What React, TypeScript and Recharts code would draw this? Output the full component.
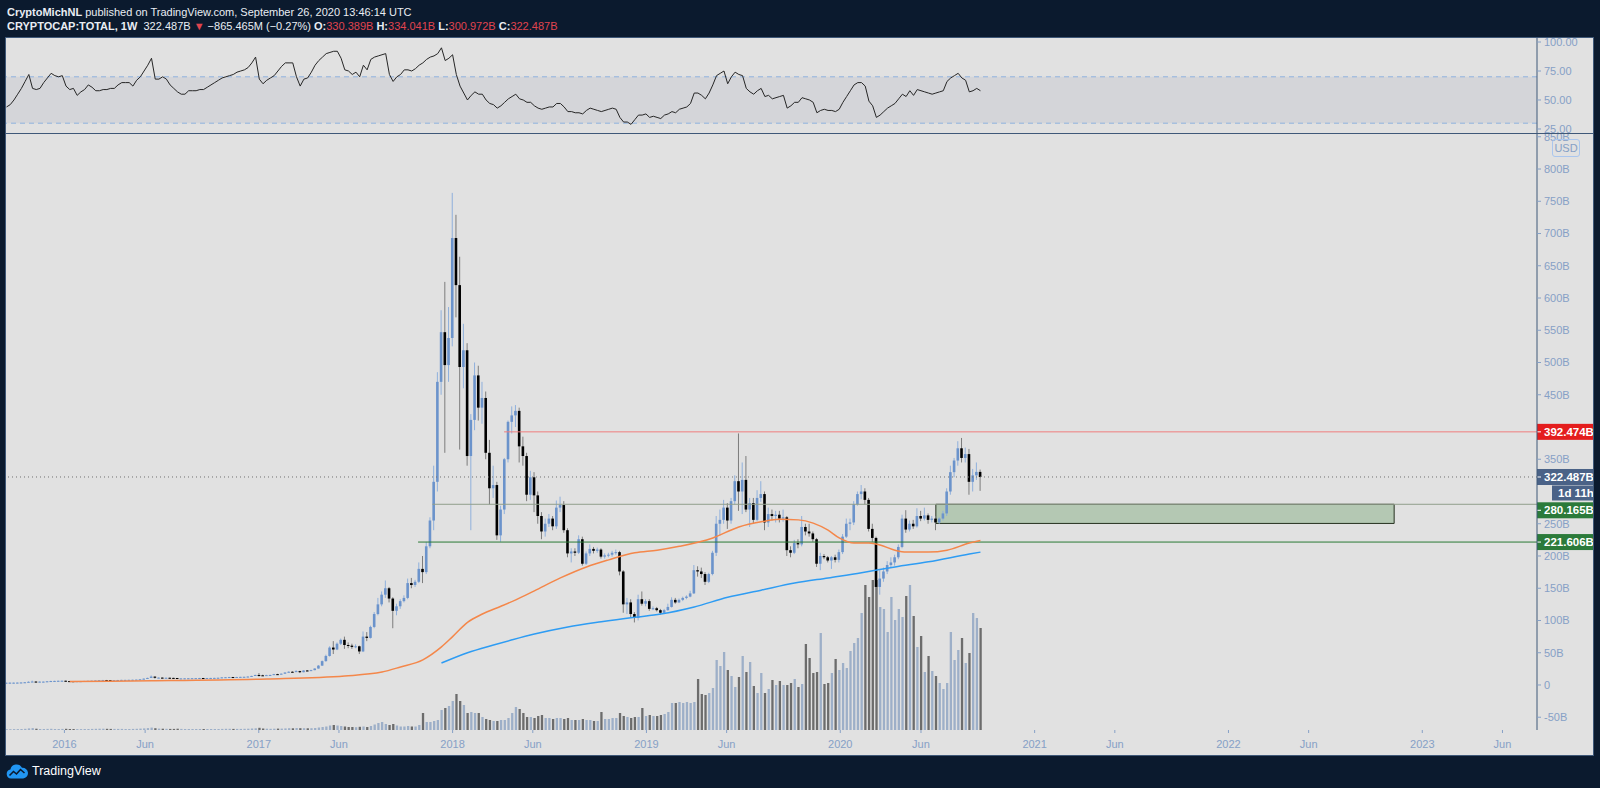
import React from "react";
import {
  ComposedChart,
  LineChart,
  Line,
  Bar,
  XAxis,
  YAxis,
  ReferenceLine,
  ReferenceArea,
} from "recharts";

// CRYPTOCAP:TOTAL weekly candles, week 0 = Sep 14 2015, last = Sep 21 2020 (values in billions USD)
const FIRST_WEEK = Date.UTC(2015, 8, 14);
const WEEK = 7 * 24 * 60 * 60 * 1000;
const X_MIN = Date.UTC(2015, 8, 13);
const X_MAX = Date.UTC(2023, 7, 5);
const firstOpen = 3.4;

const closes = [
  // 2015
  3.5, 3.6, 3.6, 3.7, 3.9, 4.2, 4.9, 5.3, 5.0, 5.2, 5.2, 5.7, 6.1, 6.3, 6.5, 6.6,
  // 2016
  6.0, 5.9, 5.7, 5.9, 5.9, 6.2, 6.4, 6.6, 6.9, 7.4, 7.6, 7.5, 7.4, 7.5, 7.7, 7.9, 7.9, 8.0, 8.1, 8.3,
  8.8, 9.8, 10.9, 13.0, 11.2, 11.4, 11.0, 11.2, 11.0, 10.8, 9.8, 10.2, 10.3, 10.4, 10.5, 10.6, 10.8, 10.7, 10.8, 10.9,
  11.0, 11.2, 11.8, 12.0, 12.3, 12.2, 12.4, 12.6, 12.7, 13.1, 14.0, 15.5,
  // 2017
  15.0, 14.8, 15.3, 15.5, 16.8, 16.5, 17.5, 19.3, 20.5, 20.2, 21.5, 19.8, 22.5, 22.0, 23.0, 25.5, 30, 37, 45, 58,
  55, 64, 70, 62, 61, 59, 60, 52, 75, 73, 90, 110, 125, 140, 150, 134, 115, 122, 130, 135,
  158, 155, 160, 180, 175, 215, 255, 315, 470, 547, 496, 538,
  // 2018
  693, 620, 493, 519, 355, 411, 480, 430, 445, 360, 305, 310, 232, 272, 350, 408, 418, 425, 370, 355,
  295, 322, 294, 262, 238, 250, 258, 246, 275, 279, 240, 204, 207, 205, 226, 188, 204, 211, 208, 210,
  199, 201, 202, 205, 206, 176, 125, 128, 110, 104, 133, 126,
  // 2019
  130, 118, 119, 116, 112, 116, 121, 132, 128, 132, 135, 137, 142, 178, 176, 172, 160, 172, 205, 250,
  256, 275, 255, 285, 316, 300, 318, 272, 282, 256, 290, 296, 252, 265, 262, 264, 258, 260, 209, 205,
  220, 218, 245, 238, 235, 226, 188, 200, 198, 193, 198, 194,
  // 2020
  206, 230, 250, 252, 280, 296, 300, 287, 242, 228, 152, 165, 176, 186, 190, 198, 214, 258, 241, 250,
  246, 262, 258, 263, 256, 258, 252, 258, 266, 300, 330, 348, 367, 352, 358, 315, 325, 330.389, 322.487,
];

const highs = [
  3.7, 3.8, 3.8, 3.9, 4.1, 4.6, 5.6, 6.8, 5.6, 5.5, 5.5, 6.0, 6.6, 6.6, 6.8, 6.9,
  6.7, 6.2, 6.0, 6.1, 6.1, 6.4, 6.6, 6.8, 7.1, 7.6, 7.9, 7.8, 7.6, 7.7, 7.9, 8.1, 8.1, 8.2, 8.3, 8.5,
  9.0, 10.1, 11.4, 14.8, 13.2, 11.8, 11.7, 11.5, 11.4, 11.2, 10.9, 10.4, 10.5, 10.6, 10.7, 10.8, 11.0, 11.0, 11.0, 11.1,
  11.2, 11.4, 12.1, 12.3, 12.5, 12.5, 12.6, 12.8, 12.9, 13.3, 14.3, 16.0,
  18.5, 15.9, 15.8, 16.0, 17.2, 17.3, 17.9, 19.8, 21.2, 21.3, 23.0, 22.0, 23.0, 23.2, 23.6, 26.0, 31, 38, 47, 60,
  68, 66, 72, 75, 66, 64, 63, 61, 83, 82, 92, 113, 135, 145, 162, 152, 136, 126, 133, 139,
  165, 166, 163, 190, 200, 222, 260, 340, 485, 581, 625, 586,
  763, 729, 664, 560, 530, 420, 500, 495, 470, 455, 380, 340, 315, 278, 352, 410, 432, 434, 430, 385,
  360, 332, 330, 300, 268, 258, 265, 262, 286, 292, 285, 243, 212, 212, 232, 230, 207, 218, 214, 213,
  212, 204, 205, 208, 210, 208, 178, 135, 133, 113, 140, 145,
  133, 133, 122, 121, 118, 118, 126, 136, 135, 134, 137, 139, 146, 186, 184, 182, 175, 174, 208, 262,
  272, 287, 282, 290, 325, 390, 345, 355, 290, 290, 302, 316, 300, 275, 272, 270, 270, 272, 262, 215,
  225, 226, 262, 250, 250, 238, 228, 205, 203, 200, 200, 202,
  210, 234, 258, 258, 285, 300, 310, 305, 290, 250, 230, 178, 182, 192, 198, 202, 218, 264, 271, 255,
  256, 274, 270, 275, 266, 262, 262, 260, 270, 305, 340, 352, 378, 383, 368, 366, 335, 345, 334.041,
];

const lows = [
  3.3, 3.4, 3.4, 3.5, 3.6, 3.9, 4.1, 4.7, 4.6, 4.9, 5.0, 5.1, 5.6, 5.9, 6.1, 6.3,
  5.7, 5.6, 5.4, 5.6, 5.6, 5.8, 6.1, 6.3, 6.5, 6.8, 7.3, 7.2, 7.2, 7.3, 7.4, 7.6, 7.7, 7.8, 7.9, 8.0,
  8.2, 8.7, 9.7, 10.8, 10.0, 10.9, 10.7, 10.8, 10.8, 10.5, 9.2, 9.7, 10.0, 10.2, 10.3, 10.4, 10.5, 10.5, 10.6, 10.7,
  10.8, 11.0, 11.1, 11.7, 11.8, 12.0, 12.1, 12.3, 12.5, 12.7, 13.0, 13.9,
  13.0, 14.0, 14.5, 15.0, 15.4, 16.0, 16.4, 17.3, 19.0, 19.5, 20.0, 18.5, 19.6, 21.3, 21.8, 22.8, 25.2, 29.5, 36, 44,
  48, 54, 62, 56, 57, 56, 57, 48, 51, 68, 72, 88, 108, 122, 135, 128, 88, 108, 118, 128,
  133, 150, 152, 158, 158, 172, 212, 240, 300, 450, 360, 470,
  525, 570, 365, 460, 340, 240, 395, 410, 405, 350, 280, 290, 225, 222, 265, 345, 390, 400, 345, 340,
  285, 287, 268, 250, 226, 230, 245, 240, 242, 268, 236, 198, 190, 200, 203, 185, 186, 200, 204, 205,
  196, 196, 198, 199, 202, 170, 112, 110, 104, 97, 100, 123,
  122, 115, 116, 114, 109, 110, 115, 120, 126, 127, 130, 133, 136, 141, 168, 166, 155, 158, 170, 200,
  232, 250, 242, 250, 280, 270, 265, 268, 245, 250, 254, 284, 240, 245, 255, 252, 252, 253, 200, 198,
  203, 212, 215, 232, 230, 222, 183, 178, 195, 190, 180, 190,
  190, 203, 228, 240, 248, 278, 288, 280, 238, 222, 117, 140, 160, 172, 182, 185, 195, 212, 236, 238,
  242, 244, 254, 255, 250, 252, 240, 250, 255, 262, 295, 322, 340, 345, 345, 295, 300, 318, 300.972,
];

// relative weekly volume (drawn as an overlay at the bottom of the price pane)
const volumes = [
  0.8, 0.8, 0.9, 0.9, 1, 1.2, 1.6, 1.9, 1.3, 1, 1, 1.1, 1.2, 1, 1, 1.1,
  1.2, 1, 1, 0.9, 0.9, 1, 1, 1.1, 1.2, 1.3, 1.3, 1.2, 1.1, 1.1, 1.1, 1.1, 1, 1, 1.1, 1.2,
  1.4, 1.6, 1.9, 2.4, 1.8, 1.4, 1.3, 1.2, 1.1, 1.1, 1.3, 1.1, 1, 1, 1, 1, 1, 1, 1, 1,
  1, 1, 1.1, 1.2, 1.2, 1.1, 1.1, 1.1, 1.2, 1.3, 1.5, 1.7,
  2.2, 1.5, 1.3, 1.2, 1.3, 1.4, 1.4, 1.6, 1.8, 1.7, 2, 1.8, 1.8, 1.7, 1.8, 2, 2.5, 3, 3.5, 4.5,
  5, 4.5, 4, 3.5, 3, 3, 2.8, 3.2, 3.5, 3, 4, 5.5, 7, 8, 6, 5, 6, 4.5, 3.5, 3.5,
  4, 3.5, 3.5, 5, 17, 8, 8, 9, 10, 20, 22, 24,
  29, 36, 29, 25, 17, 18, 17, 17, 13, 11, 10, 9, 9, 10, 10, 12, 17, 23, 21, 17,
  13, 13, 12, 14, 15, 12, 12, 11, 12, 12, 11, 12, 10, 10, 10, 11, 10, 10, 9, 9,
  18, 11, 11, 12, 12, 17, 14, 13, 12, 13, 13, 22,
  14, 15, 14, 14, 15, 16, 18, 27, 27, 28, 27, 28, 27, 28, 51, 36, 35, 37, 42, 70,
  64, 78, 60, 54, 43, 53, 74, 58, 68, 44, 37, 57, 37, 41, 50, 45, 49, 45, 45, 47,
  51, 43, 46, 86, 72, 57, 58, 97, 46, 47, 57, 71,
  60, 67, 62, 79, 87, 92, 117, 145, 133, 150, 150, 123, 121, 98, 133, 110, 121, 113, 134, 145,
  114, 83, 94, 58, 74, 59, 54, 47, 41, 47, 98, 70, 80, 92, 67, 77, 117, 112, 102,
];

// RSI (14) per week
const rsiValues = [
  44, 46, 50, 55, 60, 66, 72, 60, 59, 60, 65, 69, 73, 71, 70, 71,
  62, 59, 60, 54, 57, 59, 63, 61, 58, 58, 59, 59, 60, 60, 63, 65, 65, 65, 62, 67,
  70, 75, 80, 86, 68, 68, 70, 68, 63, 60, 57, 55, 55, 58, 58, 58, 59, 59, 61, 63,
  65, 67, 69, 70, 71, 72, 74, 75, 76, 78, 82, 87,
  68, 64, 67, 69, 71, 75, 79, 82, 82, 82, 70, 62, 68, 69, 74, 80, 84, 87, 90, 91,
  92, 92, 86, 76, 75, 72, 74, 70, 80, 76, 85, 87, 88, 89, 90, 72, 66, 70, 72, 76,
  76, 75, 77, 80, 82, 85, 87, 88, 90, 95, 84, 86,
  89, 72, 62, 56, 50, 54, 57, 55, 55, 50, 47, 46, 43, 45, 48, 51, 53, 55, 51, 50,
  48, 48, 45, 43, 42, 43, 44, 44, 47, 47, 44, 40, 40, 39, 39, 38, 41, 43, 42, 41,
  40, 41, 42, 43, 42, 35, 31, 31, 29, 33, 37, 37,
  38, 35, 36, 35, 34, 37, 38, 40, 39, 42, 43, 44, 47, 56, 56, 54, 51, 56, 63, 71,
  73, 75, 64, 70, 74, 72, 71, 60, 57, 55, 58, 60, 53, 54, 51, 52, 53, 54, 43, 45,
  48, 48, 52, 51, 50, 48, 39, 41, 42, 41, 41, 40,
  42, 48, 53, 58, 63, 65, 65, 62, 49, 45, 35, 37, 40, 43, 45, 47, 51, 55, 53, 58,
  54, 59, 58, 57, 56, 55, 56, 57, 58, 66, 69, 71, 73, 69, 67, 57, 58, 60, 58,
];

// moving averages at a few weeks (week index -> value)
const orangeMaWeeks = [17, 39, 70, 91, 101, 106, 112, 117, 120, 124, 128, 133, 137, 142, 149, 156, 162, 169, 175, 181, 190, 197, 203, 208, 213, 217, 221, 224, 228, 232, 235, 239, 242, 248, 253, 259, 262];
const orangeMaValues = [5.5, 6.5, 9.3, 14, 20, 28, 39, 59, 75, 97, 110, 122, 132, 146, 166, 183, 194, 205, 209, 215, 228, 245, 253, 257, 256, 251, 240, 228, 220, 220, 217, 209, 206, 206, 209, 220, 224];
const blueMaWeeks = [117, 124, 131, 136, 142, 151, 160, 169, 176, 185, 194, 203, 212, 221, 230, 239, 248, 259, 262];
const blueMaValues = [34, 50, 62, 70, 79, 90, 98, 105, 110, 121, 136, 147, 158, 166, 174, 183, 191, 203, 206];

const priceTicks = [-50, 0, 50, 100, 150, 200, 250, 350, 450, 500, 550, 600, 650, 700, 750, 800, 850];
const rsiTicks = [25, 50, 75, 100];
const tickYears = [2016, 2017, 2018, 2019, 2020, 2021, 2022, 2023];

const resistance = 392.474;
const lastPrice = 322.487;
const zoneTop = 280.165;
const zoneBottom = 250.5;
const support = 221.606;
const resistanceFrom = Date.UTC(2018, 3, 8);
const zoneLineFrom = Date.UTC(2017, 10, 24);
const supportFrom = Date.UTC(2017, 9, 28);
const boxFrom = Date.UTC(2020, 5, 29);
const boxTo = Date.UTC(2022, 10, 9);

const NAVY = "#0b1a2e";
const PANEL = "#e1e1e1";
const BORDER = "#3f5878";
const AXIS_TEXT = "#86a0c6";
const FONT = "'Liberation Sans', Arial, sans-serif";
const UP_BODY = "#6b93cb";
const UP_WICK = "#8fb0dc";
const DOWN_BODY = "#000000";
const DOWN_WICK = "#7c7c7c";
const RED = "#e0444e";

const timeTicks = tickYears.flatMap((y) => [Date.UTC(y, 0, 1), Date.UTC(y, 5, 1)]);

const rows = closes.map((c, i) => ({
  t: FIRST_WEEK + i * WEEK,
  open: i === 0 ? firstOpen : closes[i - 1],
  high: highs[i],
  low: lows[i],
  close: c,
  volume: volumes[i],
  rsi: rsiValues[i],
  maOrange: null as number | null,
  maBlue: null as number | null,
}));
orangeMaWeeks.forEach((w, k) => (rows[w].maOrange = orangeMaValues[k]));
blueMaWeeks.forEach((w, k) => (rows[w].maBlue = blueMaValues[k]));

const Candle = (props: any) => {
  const { x, y, width, height, payload } = props;
  if (!payload || !Number.isFinite(y)) return null;
  const { open, close, high, low } = payload;
  const k = high > low ? height / (high - low) : 0;
  const cx = x + width / 2;
  const yOpen = y + (high - open) * k;
  const yClose = y + (high - close) * k;
  const up = close >= open;
  const top = Math.min(yOpen, yClose);
  const bodyH = Math.max(Math.abs(yOpen - yClose), 1);
  return (
    <g>
      <line x1={cx} x2={cx} y1={y} y2={y + Math.max(height, 1)} stroke={up ? UP_WICK : DOWN_WICK} strokeWidth={1} />
      <rect x={cx - 1.3} y={top} width={2.6} height={bodyH} fill={up ? UP_BODY : DOWN_BODY} />
    </g>
  );
};

const VolumeBar = (props: any) => {
  const { x, y, width, height, payload } = props;
  if (!payload || !(height > 0)) return null;
  const up = payload.close >= payload.open;
  return <rect x={x + width / 2 - 1.15} y={y} width={2.3} height={height} fill={up ? "#9dafc8" : "#6c6c6c"} />;
};

const AxisTag = ({ viewBox, text, bg, shift = 0, timer }: any) => {
  if (!viewBox) return null;
  const x = viewBox.x + viewBox.width;
  const y = viewBox.y + shift;
  return (
    <g>
      <rect x={x} y={y - 8} width={56} height={16} fill={bg} />
      <line x1={x} x2={x + 4} y1={y} y2={y} stroke="#ffffff" />
      <text x={x + 7} y={y + 4} fill="#ffffff" fontSize={11.5} fontWeight={700} fontFamily={FONT}>
        {text}
      </text>
      {timer && (
        <g>
          <rect x={x + 15} y={y + 8.5} width={41} height={15} fill={bg} />
          <text x={x + 21} y={y + 20} fill="#ffffff" fontSize={11.5} fontWeight={700} fontFamily={FONT}>
            {timer}
          </text>
        </g>
      )}
    </g>
  );
};

const axisTick = { fill: AXIS_TEXT, fontSize: 11, fontFamily: FONT };

const RsiPane = () => (
  <LineChart width={1587} height={95} data={rows} margin={{ top: 0, right: 0, bottom: 0, left: 0 }}>
    <XAxis dataKey="t" type="number" domain={[X_MIN, X_MAX]} allowDataOverflow hide />
    <YAxis
      orientation="right"
      width={56}
      domain={[21.55, 103.45]}
      allowDataOverflow
      ticks={rsiTicks}
      interval={0}
      tickFormatter={(v: number) => v.toFixed(2)}
      tick={axisTick}
      tickSize={4}
      tickMargin={3}
      tickLine={{ stroke: AXIS_TEXT }}
      axisLine={{ stroke: BORDER }}
    />
    <ReferenceArea y1={30} y2={70} fill="#d4d5d9" fillOpacity={1} stroke="none" />
    <ReferenceLine y={70} stroke="#8fb3de" strokeDasharray="5 4" />
    <ReferenceLine y={30} stroke="#8fb3de" strokeDasharray="5 4" />
    <Line type="linear" dataKey="rsi" stroke="#262626" strokeWidth={1} dot={false} isAnimationActive={false} />
  </LineChart>
);

const PricePane = () => (
  <ComposedChart width={1587} height={621} data={rows} margin={{ top: 0, right: 0, bottom: 0, left: 0 }}>
    <XAxis
      xAxisId="t"
      dataKey="t"
      type="number"
      domain={[X_MIN, X_MAX]}
      allowDataOverflow
      ticks={timeTicks}
      interval={0}
      height={25}
      tickFormatter={(v: number) => {
        const d = new Date(v);
        return d.getUTCMonth() === 0 ? String(d.getUTCFullYear()) : "Jun";
      }}
      tick={axisTick}
      tickSize={3}
      tickMargin={7}
      tickLine={{ stroke: AXIS_TEXT }}
      axisLine={false}
    />
    <XAxis xAxisId="v" dataKey="t" type="number" domain={[X_MIN, X_MAX]} allowDataOverflow hide />
    <YAxis
      yAxisId="p"
      orientation="right"
      width={56}
      domain={[-69.8, 854.3]}
      allowDataOverflow
      ticks={priceTicks}
      interval={0}
      tickFormatter={(v: number) => (v === 0 ? "0" : `${v}B`)}
      tick={axisTick}
      tickSize={4}
      tickMargin={3}
      tickLine={{ stroke: AXIS_TEXT }}
      axisLine={{ stroke: BORDER }}
    />
    <YAxis yAxisId="vol" hide domain={[0, 596]} allowDataOverflow />

    <Bar xAxisId="v" yAxisId="vol" dataKey="volume" barSize={2} shape={(p: any) => <VolumeBar {...p} />} isAnimationActive={false} />

    <ReferenceArea
      xAxisId="t"
      yAxisId="p"
      x1={boxFrom}
      x2={boxTo}
      y1={zoneBottom}
      y2={zoneTop}
      fill="#b4c8b3"
      fillOpacity={1}
      stroke="#25301f"
      strokeWidth={1}
    />
    <ReferenceLine
      xAxisId="t"
      yAxisId="p"
      y={lastPrice}
      stroke="#707070"
      strokeDasharray="1 3"
      label={(p: any) => <AxisTag viewBox={p.viewBox} text="322.487B" bg="#4a6287" timer="1d 11h" />}
    />
    <ReferenceLine
      xAxisId="t"
      yAxisId="p"
      segment={[{ x: resistanceFrom, y: resistance }, { x: X_MAX, y: resistance }]}
      stroke="#ef7d7d"
      ifOverflow="visible"
      label={(p: any) => <AxisTag viewBox={p.viewBox} text="392.474B" bg="#e41d1d" />}
    />
    <ReferenceLine
      xAxisId="t"
      yAxisId="p"
      segment={[{ x: zoneLineFrom, y: zoneTop }, { x: X_MAX, y: zoneTop }]}
      stroke="#919e8c"
      ifOverflow="visible"
      label={(p: any) => <AxisTag viewBox={p.viewBox} text="280.165B" bg="#2b7a3a" shift={6} />}
    />
    <ReferenceLine
      xAxisId="t"
      yAxisId="p"
      segment={[{ x: supportFrom, y: support }, { x: X_MAX, y: support }]}
      stroke="#2a7a35"
      ifOverflow="visible"
      label={(p: any) => <AxisTag viewBox={p.viewBox} text="221.606B" bg="#2b7a3a" />}
    />

    <Line xAxisId="t" yAxisId="p" type="monotone" dataKey="maOrange" connectNulls stroke="#f4874a" strokeWidth={1.5} dot={false} isAnimationActive={false} />
    <Line xAxisId="t" yAxisId="p" type="monotone" dataKey="maBlue" connectNulls stroke="#2e9cf3" strokeWidth={1.5} dot={false} isAnimationActive={false} />

    <Bar
      xAxisId="t"
      yAxisId="p"
      dataKey={(d: any) => [d.low, d.high]}
      barSize={3}
      shape={(p: any) => <Candle {...p} />}
      isAnimationActive={false}
    />
  </ComposedChart>
);

const Logo = () => (
  <div style={{ position: "absolute", left: 6, top: 763, display: "flex", alignItems: "center", gap: 4 }}>
    <svg width="22" height="16" viewBox="0 0 22 16">
      <path d="M5 15.5 a4.6 4.6 0 0 1 -0.6 -9.1 a6.2 6.2 0 0 1 11.6 -1.6 a5.3 5.3 0 0 1 1.2 10.7 z" fill="#2196f3" />
      <path d="M3.5 12.5 L7.5 8.5 L10.5 11 L14.5 6.5 L18.5 10" stroke={NAVY} strokeWidth="1.6" fill="none" />
    </svg>
    <span style={{ color: "#ffffff", fontSize: 12.5, fontFamily: FONT }}>TradingView</span>
  </div>
);

const App = () => (
  <div
    style={{
      position: "fixed",
      left: 0,
      top: 0,
      width: 1600,
      height: 788,
      background: NAVY,
      overflow: "hidden",
      fontFamily: FONT,
    }}
  >
    <div style={{ position: "absolute", left: 7, top: 5, color: "#e9edf3", fontSize: 11, lineHeight: "14px", whiteSpace: "nowrap" }}>
      <div>
        <b>CryptoMichNL</b> published on TradingView.com, September 26, 2020 13:46:14 UTC
      </div>
      <div>
        <b>CRYPTOCAP:TOTAL, 1W</b>&nbsp; 322.487B <span style={{ color: RED }}>▼</span> −865.465M (−0.27%){" "}
        <b>O:</b>
        <span style={{ color: RED }}>330.389B</span> <b>H:</b>
        <span style={{ color: RED }}>334.041B</span> <b>L:</b>
        <span style={{ color: RED }}>300.972B</span> <b>C:</b>
        <span style={{ color: RED }}>322.487B</span>
      </div>
    </div>

    <div
      style={{
        position: "absolute",
        left: 5,
        top: 37,
        width: 1589,
        height: 719,
        background: PANEL,
        border: `1px solid ${BORDER}`,
        boxSizing: "border-box",
      }}
    />
    <div style={{ position: "absolute", left: 6, top: 38 }}>
      <RsiPane />
    </div>
    <div style={{ position: "absolute", left: 6, top: 134 }}>
      <PricePane />
    </div>
    <div style={{ position: "absolute", left: 5, top: 133, width: 1589, height: 1, background: BORDER }} />
    <div
      style={{
        position: "absolute",
        left: 1552,
        top: 139,
        width: 26,
        height: 16,
        border: "1px solid #aac6ee",
        borderRadius: 3,
        color: AXIS_TEXT,
        fontSize: 11,
        lineHeight: "16px",
        textAlign: "center",
      }}
    >
      USD
    </div>
    <Logo />
  </div>
);

export default App;
